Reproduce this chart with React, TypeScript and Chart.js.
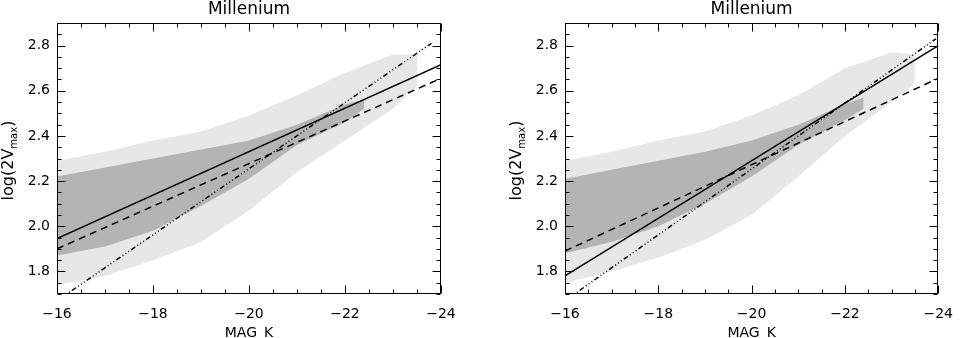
import React, { useEffect, useRef } from 'react';
import { Chart, registerables } from 'chart.js';

Chart.register(...registerables);

// ---- text & axes ----
const TITLE = 'Millenium';
const X_LABEL = 'MAG_K';
const Y_LABEL_MAIN = 'log(2V';
const Y_LABEL_SUB = 'max';
const Y_LABEL_END = ')';
const X_MIN = -24;
const X_MAX = -16;
const Y_MIN = 1.7;
const Y_MAX = 2.9;
const X_TICKS = [-16, -18, -20, -22, -24];
const Y_TICKS = [1.8, 2.0, 2.2, 2.4, 2.6, 2.8];
const X_MINOR_STEP = 0.5;
const Y_MINOR_STEP = 0.05;

// ---- left panel ----
const L_CORE_X = [-16, -17, -18, -19, -20, -21, -22, -22.4];
const L_CORE_TOP = [2.22, 2.26, 2.3, 2.34, 2.38, 2.45, 2.54, 2.56];
const L_CORE_BOTTOM = [1.87, 1.91, 1.98, 2.09, 2.21, 2.36, 2.46, 2.52];
const L_HALO_X = [-16, -17, -18, -19, -20, -21, -22, -23, -23.5];
const L_HALO_TOP = [2.29, 2.33, 2.38, 2.42, 2.49, 2.58, 2.68, 2.76, 2.76];
const L_HALO_BOTTOM = [1.74, 1.78, 1.85, 1.93, 2.07, 2.24, 2.38, 2.52, 2.62];
const L_SOLID_X = [-16, -24];
const L_SOLID_Y = [1.945, 2.715];
const L_DASH_X = [-16, -24];
const L_DASH_Y = [1.9, 2.655];
const L_DDD_X = [-16, -23.8];
const L_DDD_Y = [1.67, 2.81];

// ---- right panel ----
const R_CORE_X = [-16, -17, -18, -19, -20, -21, -22, -22.4];
const R_CORE_TOP = [2.21, 2.25, 2.29, 2.33, 2.38, 2.45, 2.54, 2.57];
const R_CORE_BOTTOM = [1.88, 1.93, 2.0, 2.1, 2.22, 2.36, 2.47, 2.52];
const R_HALO_X = [-16, -17, -18, -19, -20, -21, -22, -23, -23.5];
const R_HALO_TOP = [2.29, 2.33, 2.38, 2.42, 2.49, 2.58, 2.7, 2.77, 2.76];
const R_HALO_BOTTOM = [1.75, 1.8, 1.86, 1.94, 2.05, 2.22, 2.4, 2.55, 2.63];
const R_SOLID_X = [-16, -24];
const R_SOLID_Y = [1.78, 2.8];
const R_DASH_X = [-16, -24];
const R_DASH_Y = [1.89, 2.655];
const R_DDD_X = [-16, -23.95];
const R_DDD_Y = [1.67, 2.83];

const FONT = '"DejaVu Sans", sans-serif';
const CORE_COLOR = 'rgb(180,180,180)';
const HALO_COLOR = 'rgba(180,180,180,0.32)';

const pts = (xs: number[], ys: number[]) => xs.map((x, i) => ({ x, y: ys[i] }));

interface PanelData {
  coreX: number[]; coreTop: number[]; coreBottom: number[];
  haloX: number[]; haloTop: number[]; haloBottom: number[];
  solidX: number[]; solidY: number[];
  dashX: number[]; dashY: number[];
  dddX: number[]; dddY: number[];
}

const framePlugin = {
  id: 'idlFrame',
  afterDraw(chart: any) {
    const { ctx, chartArea: a, scales } = chart;
    const xs = scales.x;
    const ys = scales.y;
    ctx.save();
    ctx.strokeStyle = '#000';
    ctx.lineWidth = 1;
    const L = Math.round(a.left) + 0.5;
    const R = Math.round(a.right) - 0.5;
    const T = Math.round(a.top) + 0.5;
    const B = Math.round(a.bottom) - 0.5;
    ctx.beginPath();
    ctx.rect(L, T, R - L, B - T);
    ctx.stroke();
    ctx.beginPath();
    const nx = Math.round((X_MAX - X_MIN) / X_MINOR_STEP);
    for (let i = 0; i <= nx; i++) {
      const v = X_MIN + i * X_MINOR_STEP;
      const major = X_TICKS.some((t) => Math.abs(t - v) < 1e-6);
      const len = major ? 8 : 4;
      const px = Math.round(xs.getPixelForValue(v)) + 0.5;
      ctx.moveTo(px, B); ctx.lineTo(px, B - len);
      ctx.moveTo(px, T); ctx.lineTo(px, T + len);
    }
    const ny = Math.round((Y_MAX - Y_MIN) / Y_MINOR_STEP);
    for (let i = 0; i <= ny; i++) {
      const v = Y_MIN + i * Y_MINOR_STEP;
      const major = Y_TICKS.some((t) => Math.abs(t - v) < 1e-6);
      const len = major ? 8 : 4;
      const py = Math.round(ys.getPixelForValue(v)) + 0.5;
      ctx.moveTo(L, py); ctx.lineTo(L + len, py);
      ctx.moveTo(R, py); ctx.lineTo(R - len, py);
    }
    ctx.stroke();

    const cx = (a.left + a.right) / 2;
    ctx.fillStyle = '#000';
    ctx.textAlign = 'center';
    ctx.textBaseline = 'alphabetic';
    ctx.font = `17px ${FONT}`;
    ctx.fillText(TITLE, cx, 14);
    ctx.font = `14px ${FONT}`;
    ctx.fillText(X_LABEL, cx, 337);

    // rotated y label with subscript
    const cy = (a.top + a.bottom) / 2 + 2;
    const mainFont = `16px ${FONT}`;
    const subFont = `10px ${FONT}`;
    ctx.font = mainFont;
    const w1 = ctx.measureText(Y_LABEL_MAIN).width;
    const w3 = ctx.measureText(Y_LABEL_END).width;
    ctx.font = subFont;
    const w2 = ctx.measureText(Y_LABEL_SUB).width;
    const total = w1 + w2 + w3;
    ctx.translate(a.left - 44, cy);
    ctx.rotate(-Math.PI / 2);
    ctx.textAlign = 'left';
    let x0 = -total / 2;
    ctx.font = mainFont;
    ctx.fillText(Y_LABEL_MAIN, x0, 0);
    x0 += w1;
    ctx.font = subFont;
    ctx.fillText(Y_LABEL_SUB, x0, 4);
    x0 += w2;
    ctx.font = mainFont;
    ctx.fillText(Y_LABEL_END, x0, 0);
    ctx.restore();
  },
};

function Panel({ d, width, yAxisWidth, padRight }: { d: PanelData; width: number; yAxisWidth: number; padRight: number }) {
  const ref = useRef<HTMLCanvasElement | null>(null);
  useEffect(() => {
    if (!ref.current) return;
    const thin = { pointRadius: 0, borderColor: 'rgba(0,0,0,0)', borderWidth: 0, tension: 0 };
    const line = { borderColor: '#000', borderWidth: 1.5, pointRadius: 0, fill: false, order: 0 };
    const chart = new Chart(ref.current, {
      type: 'line',
      data: {
        datasets: [
          { ...thin, order: 10, data: pts(d.haloX, d.haloTop), fill: false },
          { ...thin, order: 10, data: pts(d.haloX, d.haloBottom), fill: '-1', backgroundColor: HALO_COLOR },
          { ...thin, order: 5, data: pts(d.coreX, d.coreTop), fill: false },
          { ...thin, order: 5, data: pts(d.coreX, d.coreBottom), fill: '-1', backgroundColor: CORE_COLOR },
          { ...line, data: pts(d.solidX, d.solidY) },
          { ...line, data: pts(d.dashX, d.dashY), borderDash: [7, 5] },
          { ...line, data: pts(d.dddX, d.dddY), borderDash: [5, 2.5, 1, 2.5, 1, 2.5, 1, 2.5] },
        ],
      } as any,
      options: {
        animation: false,
        responsive: false,
        maintainAspectRatio: false,
        events: [],
        layout: { padding: { left: 0, top: 23, right: padRight, bottom: 0 } },
        plugins: { legend: { display: false }, tooltip: { enabled: false }, title: { display: false } },
        scales: {
          x: {
            type: 'linear',
            min: X_MIN,
            max: X_MAX,
            reverse: true,
            grid: { display: false, drawTicks: false },
            border: { display: false },
            afterBuildTicks: (s: any) => { s.ticks = X_TICKS.map((v) => ({ value: v })); },
            afterFit: (s: any) => { s.height = 44; },
            ticks: {
              autoSkip: false,
              maxRotation: 0,
              padding: 12,
              color: '#000',
              font: { family: FONT, size: 14 },
              callback: (v: any) => '\u2212' + Math.abs(Number(v)),
            },
          },
          y: {
            type: 'linear',
            min: Y_MIN,
            max: Y_MAX,
            grid: { display: false, drawTicks: false },
            border: { display: false },
            afterBuildTicks: (s: any) => { s.ticks = Y_TICKS.map((v) => ({ value: v })); },
            afterFit: (s: any) => { s.width = yAxisWidth; },
            ticks: {
              autoSkip: false,
              padding: 7,
              color: '#000',
              font: { family: FONT, size: 14 },
              callback: (v: any) => Number(v).toFixed(1),
            },
          },
        },
      } as any,
      plugins: [framePlugin],
    });
    return () => chart.destroy();
  }, []);
  return <canvas ref={ref} width={width} height={338} style={{ width, height: 338, display: 'block' }} />;
}

const LEFT: PanelData = {
  coreX: L_CORE_X, coreTop: L_CORE_TOP, coreBottom: L_CORE_BOTTOM,
  haloX: L_HALO_X, haloTop: L_HALO_TOP, haloBottom: L_HALO_BOTTOM,
  solidX: L_SOLID_X, solidY: L_SOLID_Y,
  dashX: L_DASH_X, dashY: L_DASH_Y,
  dddX: L_DDD_X, dddY: L_DDD_Y,
};
const RIGHT: PanelData = {
  coreX: R_CORE_X, coreTop: R_CORE_TOP, coreBottom: R_CORE_BOTTOM,
  haloX: R_HALO_X, haloTop: R_HALO_TOP, haloBottom: R_HALO_BOTTOM,
  solidX: R_SOLID_X, solidY: R_SOLID_Y,
  dashX: R_DASH_X, dashY: R_DASH_Y,
  dddX: R_DDD_X, dddY: R_DDD_Y,
};

export default function App() {
  return (
    <div style={{ position: 'fixed', left: 0, top: 0, width: 965, height: 338, background: '#fff', overflow: 'hidden' }}>
      <div style={{ position: 'absolute', left: 0, top: 0 }}>
        <Panel d={LEFT} width={482} yAxisWidth={57} padRight={41} />
      </div>
      <div style={{ position: 'absolute', left: 482, top: 0 }}>
        <Panel d={RIGHT} width={483} yAxisWidth={83} padRight={16} />
      </div>
    </div>
  );
}
